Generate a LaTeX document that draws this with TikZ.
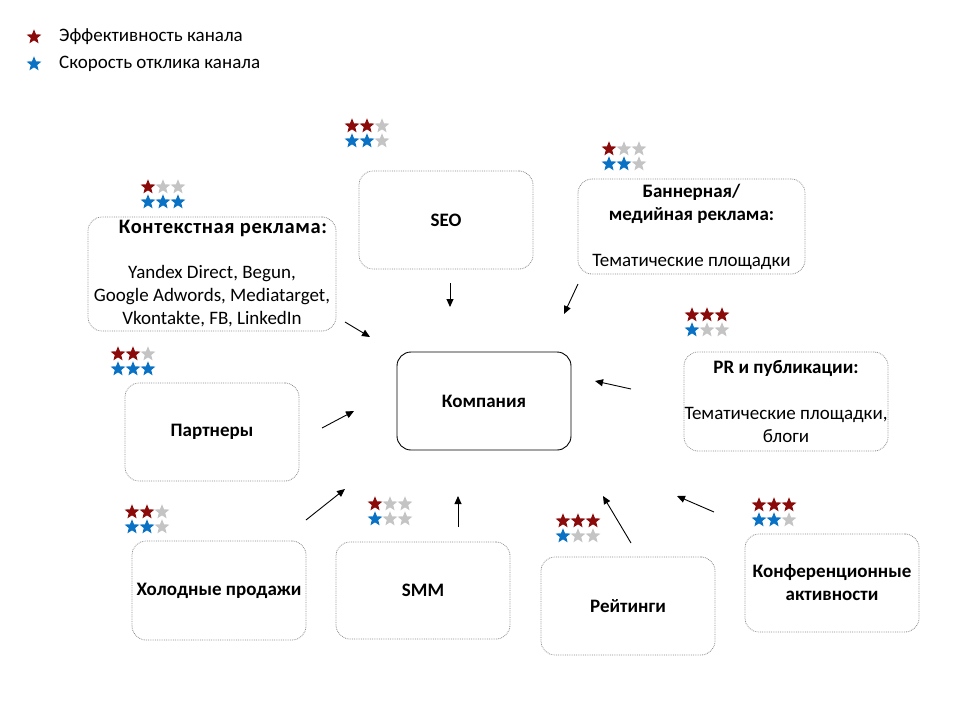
\documentclass[tikz,border=0pt]{standalone}
\usepackage{fontspec}
\setmainfont{Carlito}
\usetikzlibrary{shapes.geometric,arrows.meta}
\definecolor{sred}{HTML}{8B0A0A}
\definecolor{sblue}{HTML}{0A72C4}
\definecolor{sgray}{HTML}{C4C4C4}
\definecolor{bordergray}{HTML}{8C8C8C}
\tikzset{
  chan/.style={draw=bordergray, densely dotted, line width=0.8pt, rounded corners=14pt,
    align=center, inner sep=0pt, font=\fontsize{19}{23}\selectfont},
  mainbox/.style={draw=black, line width=0.9pt, rounded corners=14pt,
    align=center, inner sep=0pt, font=\fontsize{19}{23}\selectfont\bfseries},
  star5/.style={star, star points=5, star point ratio=2.3, minimum size=15.5pt,
    inner sep=0pt, draw=none, fill=#1},
  legendtext/.style={anchor=west, inner sep=0pt, font=\fontsize{19}{20}\selectfont},
  flow/.style={-{Triangle[length=8pt,width=7pt]}, line width=0.9pt},
}
\newcommand\ratings[5]{% name, x, y, red, blue
  \foreach \i in {1,2,3}{
    \pgfmathsetmacro\xx{#2+15*(\i-1)}
    \ifnum\i>#4\def\cr{sgray}\else\def\cr{sred}\fi
    \ifnum\i>#5\def\cb{sgray}\else\def\cb{sblue}\fi
    \node[star5=\cr] (#1r\i) at (\xx,#3) {};
    \node[star5=\cb] (#1b\i) at (\xx,#3+15) {};
  }
}
\begin{document}
\begin{tikzpicture}[x=1pt,y=-1pt]
\useasboundingbox[fill=white] (0,0) rectangle (960,720);

% legend
\node[star5=sred] (legred) at (34,37) {};
\node[star5=sblue] (legblue) at (34,64) {};
\node[legendtext] (legredt) at (59,37) {Эффективность канала};
\node[legendtext] (legbluet) at (59,64) {Скорость отклика канала};

% boxes
\node[chan, minimum width=248pt, minimum height=114pt] (ctx) at (212,274)
  {\hspace*{22pt}{\fontsize{20.5}{23}\selectfont\bfseries\addfontfeatures{LetterSpace=3}Контекстная реклама:}\\[22pt] Yandex Direct, Begun,\\ Google Adwords, Mediatarget,\\ Vkontakte, FB, LinkedIn};
\node[chan, minimum width=174pt, minimum height=98pt] (seo) at (446,220) {\textbf{SEO}};
\node[chan, minimum width=227pt, minimum height=95pt] (ban) at (691.5,226.5)
  {\textbf{Баннерная/}\\ \textbf{медийная реклама:}\\[23pt] Тематические площадки};
\node[chan, minimum width=204pt, minimum height=99pt] (pr) at (786,401.5)
  {\textbf{PR и публикации:}\\[23pt] Тематические площадки,\\ блоги};
\node[chan, minimum width=174pt, minimum height=98pt] (part) at (212,432) {\textbf{Партнеры}};
\node[mainbox, minimum width=174pt, minimum height=98pt] (comp) at (484,401) {Компания};
\node[chan, minimum width=174pt, minimum height=99pt] (cold) at (219,590.5) {\textbf{Холодные продажи}};
\node[chan, minimum width=174pt, minimum height=97pt] (smm) at (423,590.5) {\textbf{SMM}};
\node[chan, minimum width=174pt, minimum height=98pt] (rat) at (628,606) {\textbf{Рейтинги}};
\node[chan, minimum width=174pt, minimum height=98pt] (conf) at (832,583)
  {\textbf{Конференционные}\\ \textbf{активности}};

% ratings
\ratings{sctx}{148}{187}{1}{3}
\ratings{sseo}{352}{126}{2}{2}
\ratings{sban}{609}{149}{1}{2}
\ratings{spr}{692}{315}{3}{1}
\ratings{spart}{118}{354}{2}{3}
\ratings{scold}{132}{512}{2}{2}
\ratings{ssmm}{375}{504}{1}{1}
\ratings{srat}{563}{521}{3}{1}
\ratings{sconf}{759}{505}{3}{2}

% arrows
\coordinate (a1s) at (345,322); \coordinate (a1e) at (370,337);
\coordinate (a2s) at (450,283); \coordinate (a2e) at (450,307);
\coordinate (a3s) at (578,284); \coordinate (a3e) at (564,314);
\coordinate (a4s) at (631,389); \coordinate (a4e) at (595,381);
\coordinate (a5s) at (322,428); \coordinate (a5e) at (354,411);
\coordinate (a6s) at (306,520); \coordinate (a6e) at (345,489);
\coordinate (a7s) at (458,527); \coordinate (a7e) at (458,496);
\coordinate (a8s) at (631,543); \coordinate (a8e) at (603,496);
\coordinate (a9s) at (714,512); \coordinate (a9e) at (677,496);
\foreach \k in {1,...,9}{\draw[flow] (a\k s) -- (a\k e);}
\end{tikzpicture}
\end{document}
